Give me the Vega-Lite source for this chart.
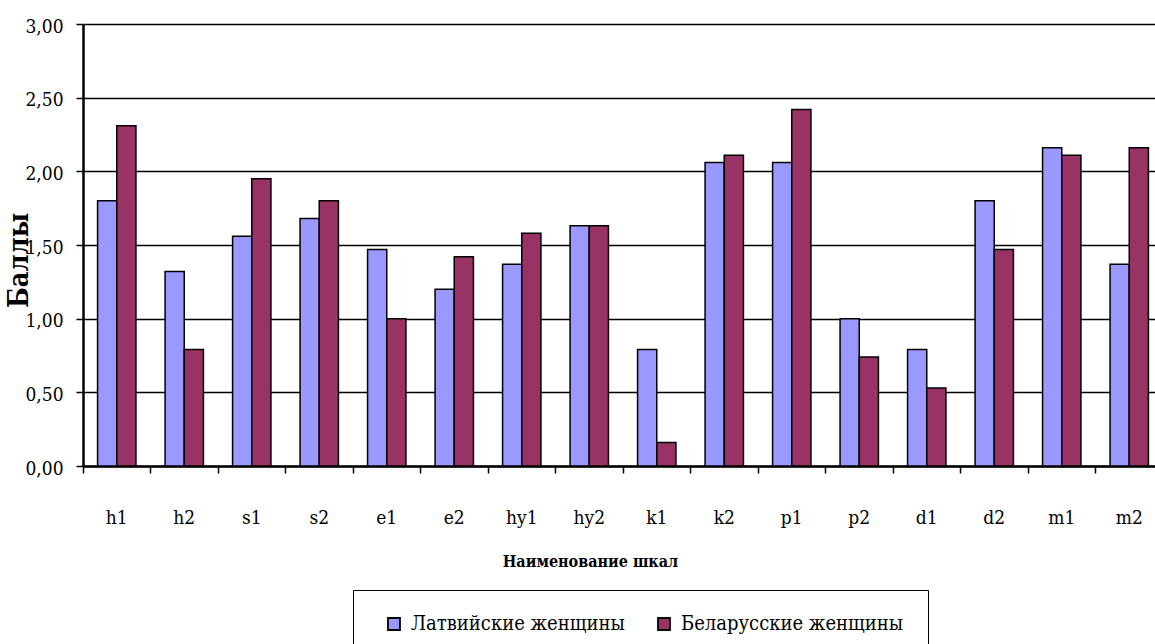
{
  "$schema": "https://vega.github.io/schema/vega-lite/v6.json",
  "width": 1072,
  "height": 442,
  "autosize": {"type": "none"},
  "padding": {"left": 83, "top": 24, "right": 0, "bottom": 178},
  "background": "white",
  "config": {
    "font": "DejaVu Serif Condensed",
    "view": {"stroke": null}
  },
  "data": {
    "values": [
      {"scale": "h1", "group": "Латвийские женщины", "value": 1.80},
      {"scale": "h1", "group": "Беларусские женщины", "value": 2.31},
      {"scale": "h2", "group": "Латвийские женщины", "value": 1.32},
      {"scale": "h2", "group": "Беларусские женщины", "value": 0.79},
      {"scale": "s1", "group": "Латвийские женщины", "value": 1.56},
      {"scale": "s1", "group": "Беларусские женщины", "value": 1.95},
      {"scale": "s2", "group": "Латвийские женщины", "value": 1.68},
      {"scale": "s2", "group": "Беларусские женщины", "value": 1.80},
      {"scale": "e1", "group": "Латвийские женщины", "value": 1.47},
      {"scale": "e1", "group": "Беларусские женщины", "value": 1.00},
      {"scale": "e2", "group": "Латвийские женщины", "value": 1.20},
      {"scale": "e2", "group": "Беларусские женщины", "value": 1.42},
      {"scale": "hy1", "group": "Латвийские женщины", "value": 1.37},
      {"scale": "hy1", "group": "Беларусские женщины", "value": 1.58},
      {"scale": "hy2", "group": "Латвийские женщины", "value": 1.63},
      {"scale": "hy2", "group": "Беларусские женщины", "value": 1.63},
      {"scale": "k1", "group": "Латвийские женщины", "value": 0.79},
      {"scale": "k1", "group": "Беларусские женщины", "value": 0.16},
      {"scale": "k2", "group": "Латвийские женщины", "value": 2.06},
      {"scale": "k2", "group": "Беларусские женщины", "value": 2.11},
      {"scale": "p1", "group": "Латвийские женщины", "value": 2.06},
      {"scale": "p1", "group": "Беларусские женщины", "value": 2.42},
      {"scale": "p2", "group": "Латвийские женщины", "value": 1.00},
      {"scale": "p2", "group": "Беларусские женщины", "value": 0.74},
      {"scale": "d1", "group": "Латвийские женщины", "value": 0.79},
      {"scale": "d1", "group": "Беларусские женщины", "value": 0.53},
      {"scale": "d2", "group": "Латвийские женщины", "value": 1.80},
      {"scale": "d2", "group": "Беларусские женщины", "value": 1.47},
      {"scale": "m1", "group": "Латвийские женщины", "value": 2.16},
      {"scale": "m1", "group": "Беларусские женщины", "value": 2.11},
      {"scale": "m2", "group": "Латвийские женщины", "value": 1.37},
      {"scale": "m2", "group": "Беларусские женщины", "value": 2.16}
    ]
  },
  "mark": {"type": "bar", "stroke": "black", "strokeWidth": 1.5},
  "encoding": {
    "x": {
      "field": "scale",
      "type": "nominal",
      "sort": null,
      "scale": {"range": [0, 1080], "paddingInner": 0, "paddingOuter": 0},
      "axis": {
        "title": "Наименование шкал",
        "titleFont": "DejaVu Serif Condensed",
        "titleFontSize": 16,
        "titleFontWeight": "bold",
        "titleColor": "black",
        "titleAnchor": "start",
        "titleAlign": "center",
        "titleX": 507,
        "titleY": 100,
        "titleBaseline": "alphabetic",
        "labelAngle": 0,
        "labelFont": "DejaVu Serif Condensed",
        "labelFontSize": 19,
        "labelColor": "black",
        "labelBaseline": "alphabetic",
        "labelPadding": 50,
        "ticks": true,
        "bandPosition": 0,
        "tickSize": 7,
        "tickColor": "black",
        "tickWidth": 1.5,
        "domainColor": "black",
        "domainWidth": 2.5,
        "grid": false
      }
    },
    "xOffset": {
      "field": "group",
      "type": "nominal",
      "sort": ["Латвийские женщины", "Беларусские женщины"],
      "scale": {"paddingInner": 0, "paddingOuter": 0.76}
    },
    "y": {
      "field": "value",
      "type": "quantitative",
      "scale": {"domain": [0, 3], "nice": false},
      "axis": {
        "title": "Баллы",
        "titleFont": "DejaVu Serif Condensed",
        "titleFontSize": 27,
        "titleFontWeight": "bold",
        "titleColor": "black",
        "titleX": -56,
        "titleY": 236,
        "titleAngle": -90,
        "titleAlign": "center",
        "titleBaseline": "alphabetic",
        "values": [0, 0.5, 1, 1.5, 2, 2.5, 3],
        "labelExpr": "replace(format(datum.value, '.2f'), '.', ',')",
        "labelFont": "DejaVu Serif Condensed",
        "labelFontSize": 19,
        "labelColor": "black",
        "labelPadding": 13,
        "labelBaseline": "alphabetic",
        "labelOffset": 8,
        "tickSize": 7,
        "tickColor": "black",
        "tickWidth": 1.5,
        "domainColor": "black",
        "domainWidth": 2.5,
        "grid": true,
        "gridColor": "black",
        "gridWidth": 1.5
      }
    },
    "fill": {
      "field": "group",
      "type": "nominal",
      "sort": ["Латвийские женщины", "Беларусские женщины"],
      "scale": {"domain": ["Латвийские женщины", "Беларусские женщины"], "range": ["#9999FF", "#993366"]},
      "legend": {
        "title": null,
        "orient": "none",
        "direction": "horizontal",
        "legendX": 270,
        "legendY": 566,
        "strokeColor": "black",
        "fillColor": "white",
        "padding": 24,
        "symbolType": "square",
        "symbolSize": 144,
        "symbolStrokeColor": "black",
        "symbolStrokeWidth": 1.8,
        "symbolOffset": 7,
        "labelFont": "DejaVu Serif Condensed",
        "labelFontSize": 20,
        "labelColor": "black",
        "labelOffset": 7,
        "labelLimit": 400,
        "columnPadding": 22
      }
    }
  }
}
